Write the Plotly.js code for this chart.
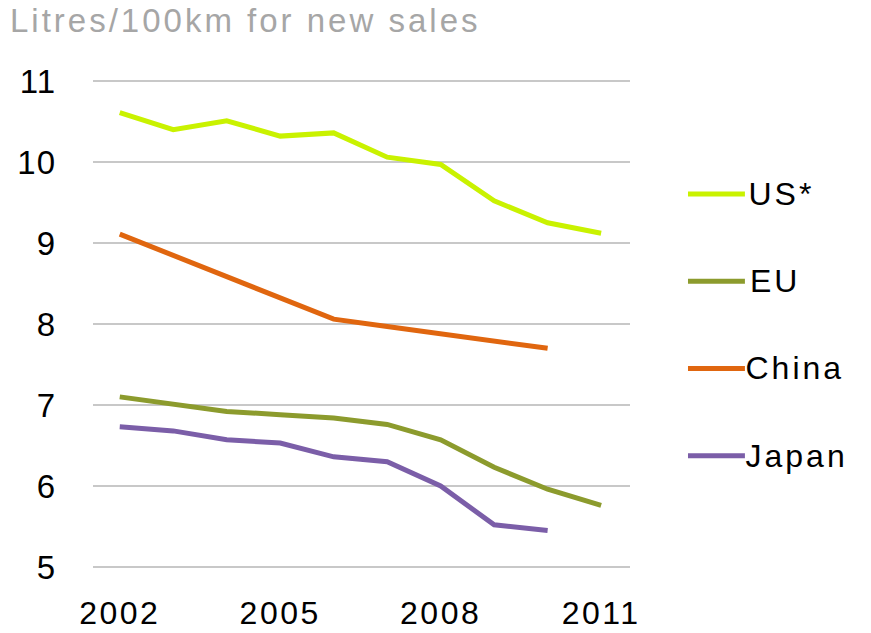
<!DOCTYPE html>
<html>
<head>
<meta charset="utf-8">
<script src="https://cdn.plot.ly/plotly-3.0.1.min.js"></script>
<style>
html,body{margin:0;padding:0;background:#fff;}
#chart{width:871px;height:633px;}
#chart .gtitle{letter-spacing:3px;}
#chart .annotation-text{letter-spacing:3px;}
#chart .xtick text{letter-spacing:2.5px;}
#chart .ytick text{letter-spacing:1px;}
</style>
</head>
<body>
<div id="chart"></div>
<script>
const years = [2002, 2003, 2004, 2005, 2006, 2007, 2008, 2009, 2010, 2011];
const seriesNames = ["US*", "EU", "China", "Japan"];
const usValues = [10.61, 10.40, 10.51, 10.32, 10.36, 10.06, 9.97, 9.52, 9.25, 9.12];
const euValues = [7.10, 7.01, 6.92, 6.88, 6.84, 6.76, 6.57, 6.23, 5.96, 5.76];
const chinaValues = [9.11, 8.85, 8.58, 8.32, 8.06, 7.97, 7.88, 7.79, 7.70, null];
const japanValues = [6.73, 6.68, 6.57, 6.53, 6.36, 6.30, 6.00, 5.52, 5.45, null];
const xTickLabels = ["2002", "2005", "2008", "2011"];
const yTickValues = [5, 6, 7, 8, 9, 10, 11];
const chartTitle = "Litres/100km for new sales";

const colors = ["#c9f200", "#8c9b2d", "#e0660f", "#7b5ea8"];
const allValues = [usValues, euValues, chinaValues, japanValues];
const font = "Liberation Sans, Arial, Helvetica, sans-serif";

const traces = allValues.map((vals, i) => ({
  x: years, y: vals, type: "scatter", mode: "lines", name: seriesNames[i],
  line: {color: colors[i], width: 5, shape: "linear"},
  connectgaps: false, showlegend: false, hoverinfo: "x+y+name"
}));

const shapes = [];
const annotations = [];
seriesNames.forEach((name, i) => {
  const yy = 0.763 - i * 0.1765;
  shapes.push({type: "line", xref: "paper", yref: "paper", x0: 1.108, x1: 1.214, y0: yy, y1: yy,
    line: {color: colors[i], width: 5}});
  annotations.push({xref: "paper", yref: "paper", x: 1.226, y: yy, xanchor: "left", yanchor: "middle",
    text: name, showarrow: false, font: {family: font, size: 32, color: "#000"}});
});

const layout = {
  width: 871, height: 633,
  margin: {l: 93, r: 241, t: 77, b: 62},
  paper_bgcolor: "#fff", plot_bgcolor: "#fff",
  title: {text: chartTitle, xref: "container", yref: "container", x: 10/871, xanchor: "left",
    y: 1 - 9/633, yanchor: "top", font: {family: font, size: 33, color: "#a6a6a6"}},
  xaxis: {range: [2001.5, 2011.54], tickvals: [2002, 2005, 2008, 2011], ticktext: xTickLabels,
    showgrid: false, zeroline: false, showline: false, ticks: "", ticklabelstandoff: 20,
    tickfont: {family: font, size: 32, color: "#000"}},
  yaxis: {range: [4.95, 11.05], tickvals: yTickValues, showgrid: true, gridcolor: "#c8c8c8", gridwidth: 1.5,
    zeroline: false, showline: false, ticks: "", ticklabelstandoff: 36,
    tickfont: {family: font, size: 33, color: "#000"}},
  shapes: shapes, annotations: annotations, showlegend: false
};

Plotly.newPlot("chart", traces, layout, {displayModeBar: false, staticPlot: true});
</script>
</body>
</html>
